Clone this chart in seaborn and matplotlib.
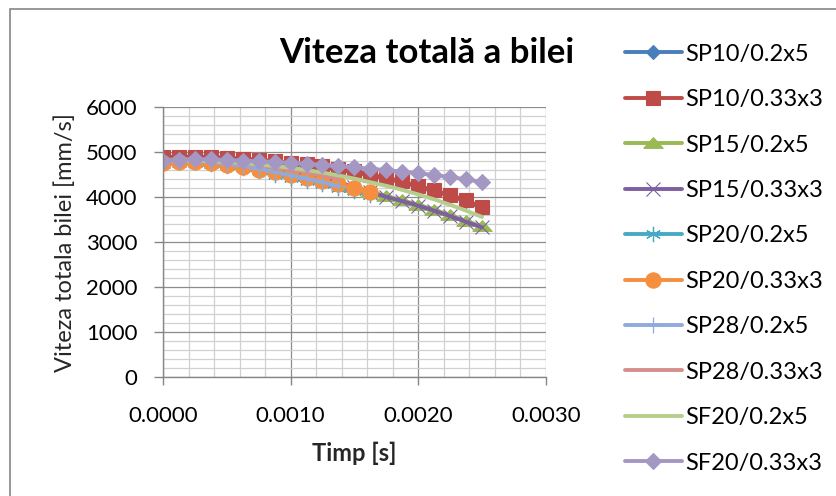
import numpy as np
import pandas as pd
import matplotlib
matplotlib.use("Agg")
import matplotlib.pyplot as plt
from matplotlib.ticker import MultipleLocator, FuncFormatter
import seaborn as sns

# time axis [s]: one sample every 0.000125 s
dt = 0.000125

series_names = [
    "SP10/0.2x5", "SP10/0.33x3", "SP15/0.2x5", "SP15/0.33x3", "SP20/0.2x5",
    "SP20/0.33x3", "SP28/0.2x5", "SP28/0.33x3", "SF20/0.2x5", "SF20/0.33x3",
]

# total ball velocity [mm/s]
sp10_02x5 = [4865, 4875, 4875, 4865, 4850, 4830, 4805, 4775, 4740, 4700, 4655, 4605,
             4545, 4475, 4405, 4325, 4225, 4125, 4025, 3905, 3755]
sp10_033x3 = [4890, 4900, 4900, 4890, 4875, 4855, 4830, 4800, 4765, 4725, 4680, 4630,
              4570, 4500, 4430, 4350, 4250, 4150, 4050, 3930, 3780]
sp15_02x5 = [4820, 4840, 4830, 4810, 4780, 4740, 4690, 4630, 4570, 4500, 4420, 4330,
             4230, 4120, 4020, 3930, 3830, 3720, 3600, 3470, 3350]
sp15_033x3 = [4810, 4830, 4820, 4800, 4770, 4730, 4680, 4620, 4560, 4490, 4410, 4320,
              4220, 4110, 4005, 3910, 3810, 3700, 3580, 3450, 3330]
sp20_02x5 = [4760, 4780, 4770, 4740, 4700, 4640, 4570, 4490, 4420, 4350, 4280, 4210,
             4130, 4050]
sp20_033x3 = [4760, 4790, 4780, 4760, 4720, 4670, 4610, 4550, 4490, 4420, 4350, 4280,
              4200, 4110]
sp28_02x5 = [4790, 4810, 4800, 4775, 4740, 4690, 4630, 4560, 4480, 4410, 4330, 4250]
sp28_033x3 = [4800, 4820, 4815, 4800, 4775, 4745, 4705, 4660, 4605, 4545, 4480, 4410]
sf20_02x5 = [4800, 4820, 4815, 4800, 4780, 4755, 4725, 4690, 4650, 4600, 4545, 4480,
             4410, 4330, 4250, 4160, 4060, 3950, 3830, 3700, 3560]
sf20_033x3 = [4800, 4830, 4840, 4835, 4825, 4810, 4795, 4780, 4760, 4740, 4715, 4690,
              4660, 4630, 4600, 4565, 4530, 4490, 4445, 4395, 4330]

series_values = [sp10_02x5, sp10_033x3, sp15_02x5, sp15_033x3, sp20_02x5,
                 sp20_033x3, sp28_02x5, sp28_033x3, sf20_02x5, sf20_033x3]

colors = ["#4A7EBB", "#BE4B48", "#98B954", "#7D60A0", "#46AAC5",
          "#F58F3F", "#8FAADC", "#D58E8C", "#B4CE8D", "#A597C4"]

flat_tri = [(-1.0, -0.5), (1.0, -0.5), (0.0, 0.6), (-1.0, -0.5)]
styles = [
    dict(marker="D", markersize=7.5),
    dict(marker="s", markersize=10.5),
    dict(marker=flat_tri, markersize=14),
    dict(marker="x", markersize=10, markeredgewidth=0.8),
    dict(marker=(6, 2, 0), markersize=11, markeredgewidth=0.9),
    dict(marker="o", markersize=11),
    dict(marker="+", markersize=12, markeredgewidth=0.9),
    dict(marker=None),
    dict(marker=None),
    dict(marker="D", markersize=8.5),
]

sns.set_theme(style="white")
plt.rcParams["font.family"] = ["Lato", "DejaVu Sans"]
plt.rcParams["text.color"] = "#000000"

fig = plt.figure(figsize=(8.36, 4.96), dpi=100)
ax = fig.add_axes([0.195, 0.2393, 0.4578, 0.5450])

for name, vals, col, st in zip(series_names, series_values, colors, styles):
    df = pd.DataFrame({"t": np.arange(len(vals)) * dt, "v": vals})
    kw = dict(st)
    if kw.get("marker") is not None:
        kw.setdefault("markeredgewidth", 0.8)
        kw["markeredgecolor"] = col
        kw["markerfacecolor"] = col
    sns.lineplot(data=df, x="t", y="v", ax=ax, color=col, linewidth=2.8,
                 label=name, legend=False, **kw)

ax.set_xlim(0, 0.003)
ax.set_ylim(0, 6000)
ax.xaxis.set_major_locator(MultipleLocator(0.001))
ax.xaxis.set_minor_locator(MultipleLocator(0.0002))
ax.yaxis.set_major_locator(MultipleLocator(1000))
ax.yaxis.set_minor_locator(MultipleLocator(200))
ax.xaxis.set_major_formatter(FuncFormatter(lambda v, p: f"{v:.4f}"))
ax.yaxis.set_major_formatter(FuncFormatter(lambda v, p: f"{v:.0f}"))

ax.set_axisbelow(True)
ax.grid(which="minor", color="#D0D0D0", linewidth=0.9)
ax.grid(which="major", color="#8C8C8C", linewidth=0.9)

for side in ("top", "right"):
    ax.spines[side].set_visible(False)
for side in ("left", "bottom"):
    ax.spines[side].set_color("#868686")
    ax.spines[side].set_linewidth(1.0)

ax.tick_params(axis="both", which="major", direction="out", colors="#868686",
               labelcolor="#000000", labelsize=16, width=1.0)
ax.tick_params(axis="y", which="major", left=True, length=6.5, pad=12)
ax.tick_params(axis="x", which="major", bottom=True, length=5.5, pad=15)
ax.tick_params(which="minor", length=0)

ax.set_xlabel("Timp [s]", fontsize=17, fontweight="bold", labelpad=11.5)
ax.set_ylabel("Viteza totala bilei [mm/s]", fontsize=17, labelpad=7)

fig.text(0.511, 0.893, "Viteza totală a bilei", fontsize=25, fontweight="bold",
         ha="center", va="center")

handles, labels = ax.get_legend_handles_labels()
fig.legend(handles, labels, loc="upper left", bbox_to_anchor=(0.7476, 0.912),
           frameon=False, fontsize=17, handlelength=2.4, handletextpad=0.15,
           labelspacing=1.035, borderaxespad=0, borderpad=0)

# chart-area border
fig.add_artist(plt.Rectangle((10 / 836, -0.1), 1.2, 1.1 - 9 / 496,
                             transform=fig.transFigure, fill=False,
                             edgecolor="#868686", linewidth=1.2))

fig.savefig("out.png", dpi=100)
